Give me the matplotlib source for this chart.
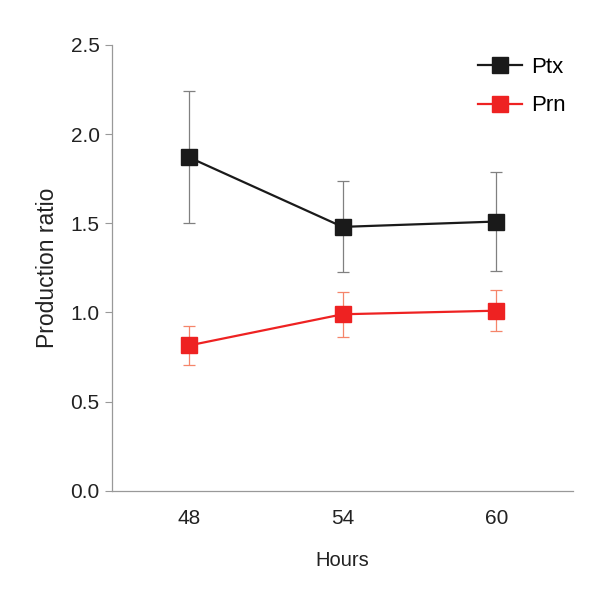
import matplotlib.pyplot as plt

plt.rcParams['font.family'] = ['Liberation Sans', 'DejaVu Sans']

hours = ['48', '54', '60']
ptx = [1.87, 1.48, 1.51]
ptx_err = [0.37, 0.255, 0.28]
prn = [0.815, 0.99, 1.01]
prn_err = [0.11, 0.125, 0.115]

fig = plt.figure(figsize=(6, 6), dpi=100)
ax = fig.add_axes([0.187, 0.182, 0.768, 0.743])

x = list(range(len(hours)))
ax.errorbar(x, ptx, yerr=ptx_err, fmt='none', ecolor='#808080', elinewidth=0.9,
            capsize=4.5, capthick=0.9, zorder=2)
ax.errorbar(x, prn, yerr=prn_err, fmt='none', ecolor='#f5856a', elinewidth=0.9,
            capsize=4.5, capthick=0.9, zorder=2)
ax.plot(x, ptx, color='#1a1a1a', lw=1.6, marker='s', ms=11.5, label='Ptx', zorder=3)
ax.plot(x, prn, color='#ee2222', lw=1.6, marker='s', ms=11.5, label='Prn', zorder=3)

ax.set_xlim(-0.5, 2.5)
ax.set_ylim(0, 2.5)
ax.set_xticks(x)
ax.set_xticklabels(hours)
ax.set_yticks([0, 0.5, 1.0, 1.5, 2.0, 2.5])
ax.set_yticklabels(['0.0', '0.5', '1.0', '1.5', '2.0', '2.5'])
ax.tick_params(axis='x', length=0, pad=13, labelsize=15, colors='#222222')
ax.tick_params(axis='y', length=5, width=0.8, color='#999999', pad=4, labelsize=15,
               labelcolor='#222222')
for s in ['top', 'right']:
    ax.spines[s].set_visible(False)
for s in ['left', 'bottom']:
    ax.spines[s].set_color('#999999')
    ax.spines[s].set_linewidth(0.9)

ax.set_ylabel('Production ratio', fontsize=16.5, labelpad=8, color='#222222')
ax.set_xlabel('Hours', fontsize=14.5, labelpad=16.5, color='#222222')

ax.legend(loc='upper right', frameon=False, fontsize=16, handlelength=2.0,
          labelspacing=0.78, handletextpad=0.4, borderaxespad=0.0,
          bbox_to_anchor=(1.004, 0.993))

fig.savefig('out.png', dpi=100)
